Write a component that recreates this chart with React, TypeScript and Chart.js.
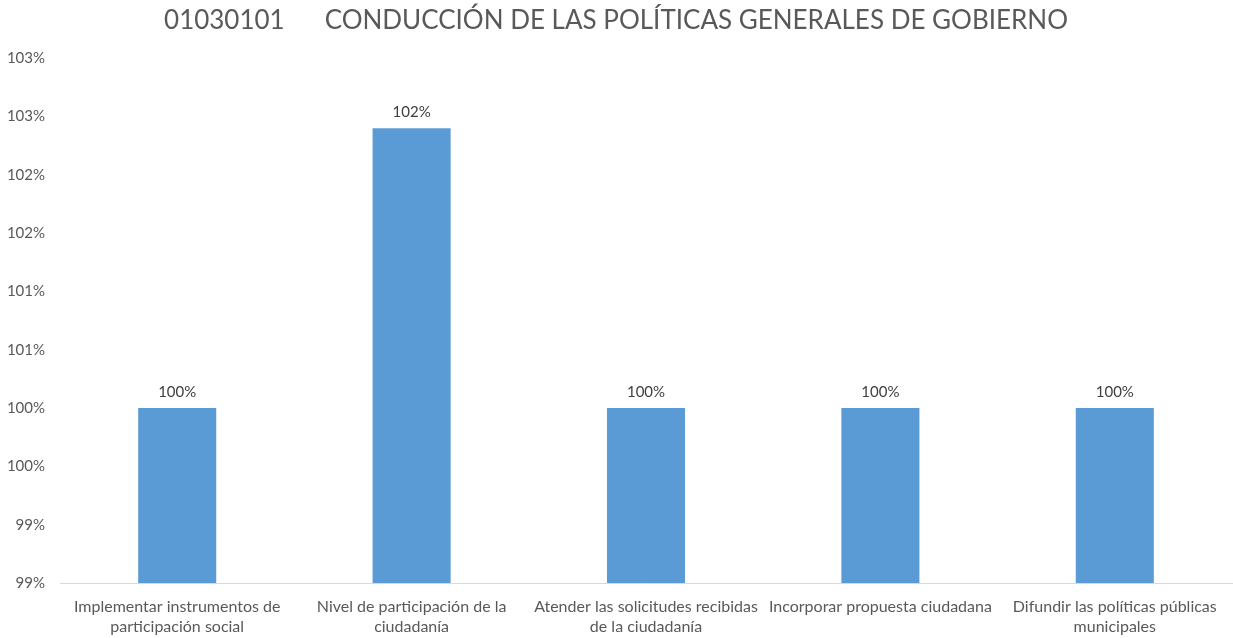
import React, { useEffect, useRef } from "react";
import { Chart, registerables } from "chart.js";

Chart.register(...registerables);

const TITLE = "01030101\u00A0\u00A0\u00A0\u00A0\u00A0\u00A0CONDUCCIÓN DE LAS POLÍTICAS GENERALES DE GOBIERNO";
const CATEGORIES: string[][] = [
  ["Implementar instrumentos de", "participación social"],
  ["Nivel de participación de la", "ciudadanía"],
  ["Atender las solicitudes recibidas", "de la ciudadanía"],
  ["Incorporar propuesta ciudadana"],
  ["Difundir las políticas públicas", "municipales"],
];
const VALUES = [1.0, 1.024, 1.0, 1.0, 1.0];
const Y_MIN = 0.985;
const Y_MAX = 1.03;
const Y_STEP = 0.005;

const FONT = "Lato, 'Open Sans', sans-serif";
const TEXT = "#595959";
const BAR = "#5B9BD5";

const pct = (v: number) => Math.round(Math.round(v * 1000) / 10) + "%";

const dataLabels = {
  id: "dataLabels",
  afterDatasetsDraw(chart: any) {
    const ctx = chart.ctx;
    const meta = chart.getDatasetMeta(0);
    ctx.save();
    ctx.font = `15px ${FONT}`;
    ctx.fillStyle = "#404040";
    ctx.textAlign = "center";
    ctx.textBaseline = "middle";
    meta.data.forEach((el: any, i: number) => {
      ctx.fillText(pct(VALUES[i]), el.x, el.y - 16);
    });
    ctx.restore();
  },
};

export default function App() {
  const ref = useRef<HTMLCanvasElement>(null);
  useEffect(() => {
    document.body.style.margin = "0";
    const chart = new Chart(ref.current!, {
      type: "bar",
      data: {
        labels: CATEGORIES,
        datasets: [
          {
            data: VALUES,
            backgroundColor: BAR,
            categoryPercentage: 1,
            barPercentage: 0.333,
          },
        ],
      },
      options: {
        animation: false,
        responsive: false,
        maintainAspectRatio: false,
        layout: { padding: { left: 0, right: 1, top: 0, bottom: 0 } },
        plugins: {
          legend: { display: false },
          tooltip: { enabled: false },
          title: {
            display: true,
            text: TITLE,
            color: TEXT,
            font: { family: FONT, size: 26, weight: "normal" },
            padding: { top: 5, bottom: 22 },
          },
        },
        scales: {
          x: {
            grid: { display: false, drawTicks: false },
            border: { display: true, color: "#D9D9D9", width: 1 },
            ticks: {
              color: TEXT,
              font: { family: FONT, size: 16, lineHeight: 1.3 },
              padding: 13,
              maxRotation: 0,
              autoSkip: false,
            },
            afterFit: (s: any) => {
              s.height = 55;
            },
          },
          y: {
            min: Y_MIN,
            max: Y_MAX,
            grid: { display: false, drawTicks: false },
            border: { display: false },
            ticks: {
              stepSize: Y_STEP,
              color: TEXT,
              font: { family: FONT, size: 15 },
              padding: 15,
              callback: (v: any) => pct(Number(v)),
            },
            afterFit: (s: any) => {
              s.width = 60;
            },
          },
        },
      },
      plugins: [dataLabels],
    });
    return () => chart.destroy();
  }, []);
  return <canvas ref={ref} width={1233} height={638} style={{ display: "block" }} />;
}
